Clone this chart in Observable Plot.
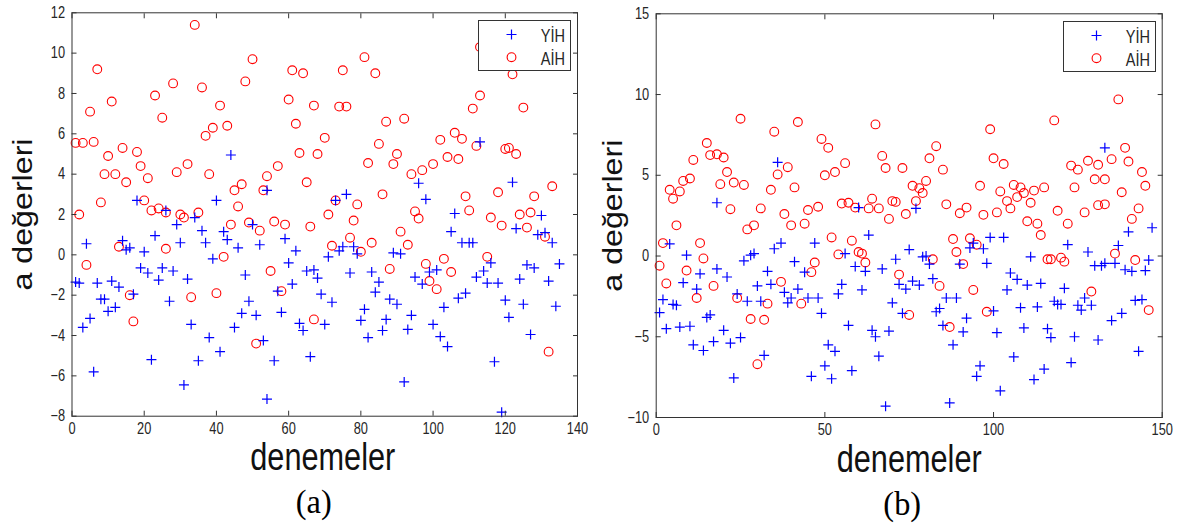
<!DOCTYPE html>
<html>
<head>
<meta charset="utf-8">
<script src="https://cdn.jsdelivr.net/npm/d3@7"></script>
<script src="https://cdn.jsdelivr.net/npm/@observablehq/plot@0.6"></script>
<style>
  html, body { margin: 0; padding: 0; background: #fff; }
  #wrap { position: relative; width: 1183px; height: 528px; overflow: hidden; background: #fff; }
  #wrap > svg { position: absolute; top: 0; }
  .legend { position: absolute; box-sizing: border-box; border: 1px solid #333; background: #fff; }
  .legend svg { position: absolute; left: 0; top: 0; overflow: visible; }
</style>
</head>
<body>
<div id="wrap"></div>
<script>
// ---------- data ----------
const seriesNames = ["YİH", "AİH"];
const xLabel = "denemeler";
const yLabel = "a değerleri";
const panelLabels = ["(a)", "(b)"];

const aXTicks = [0, 20, 40, 60, 80, 100, 120, 140];
const aYTicks = [-8, -6, -4, -2, 0, 2, 4, 6, 8, 10, 12];
const bXTicks = [0, 50, 100, 150];
const bYTicks = [-10, -5, 0, 5, 10, 15];

// panel (a) YİH  [deneme, değer]
const aYIH = [
  [1,-1.35],[2,-1.4],[3,-3.6],[4,0.55],[5,-3.15],[6,-5.8],[7,-1.4],[8,-2.2],[9,-2.2],[10,-2.8],
  [11,-1.3],[12,-2.6],[13,-1.6],[14,0.7],[15,0.25],[16,0.35],[17,-1.95],[18,2.7],[19,-0.65],[20,0.15],
  [21,-0.9],[22,-5.2],[23,0.95],[24,-1.25],[25,-0.65],[26,2.2],[27,-2.3],[28,-0.8],[29,1.5],[30,0.6],
  [31,-6.45],[32,-1.2],[33,-3.45],[34,1.85],[35,-5.25],[36,1.2],[37,0.6],[38,-4.1],[39,-0.2],[40,2.7],
  [41,-4.8],[42,1.15],[43,0.75],[44,4.95],[45,-3.6],[46,0.35],[47,-2.9],[48,-1.0],[49,-2.3],[50,1.5],
  [51,-3.0],[52,0.5],[53,-4.25],[54,-7.15],[54,3.2],[56,-5.25],[57,-1.8],[58,-2.85],[59,0.8],[60,-0.4],
  [61,-1.45],[62,0.2],[63,-3.4],[64,-3.75],[65,-0.8],[66,-5.05],[67,-0.75],[68,-1.15],[69,-1.95],[70,-3.45],
  [71,-0.1],[72,-2.35],[73,2.7],[74,0.2],[75,0.4],[76,3.0],[77,-0.9],[78,0.4],[79,0.05],[80,-3.25],
  [81,-2.7],[82,-4.1],[83,-0.85],[84,-1.85],[85,-1.35],[86,-3.75],[87,-3.2],[88,-2.2],[89,0.1],[90,-2.45],
  [91,0.05],[92,-6.3],[93,-3.7],[94,-3.0],[95,-1.1],[96,3.55],[97,-1.45],[98,2.75],[99,-0.85],[100,-3.45],
  [101,-0.75],[102,-4.05],[103,-2.6],[104,-4.55],[105,1.15],[106,2.05],[107,-2.15],[108,0.6],[109,-1.9],[110,0.6],
  [111,0.6],[112,-1.1],[113,5.6],[114,-0.8],[115,-1.4],[116,-0.4],[117,-5.3],[118,-1.4],[119,-7.8],[120,-2.25],
  [121,-3.1],[122,3.6],[123,1.3],[124,-1.2],[125,-2.45],[126,-0.5],[127,-3.95],[128,-0.65],[129,1.0],[130,1.95],
  [131,1.1],[132,-1.3],[133,0.6],[134,-2.55],[135,-0.45]
];
// panel (a) AİH
const aAIH = [
  [1,5.55],[2,2.0],[3,5.55],[4,-0.5],[5,7.1],[6,5.6],[7,9.2],[8,2.6],[9,4.0],[10,4.9],
  [11,7.6],[12,4.0],[13,0.4],[14,5.3],[15,3.6],[16,-2.0],[17,-3.3],[18,5.1],[19,4.4],[20,2.7],
  [21,3.8],[22,2.2],[23,7.9],[24,2.3],[25,6.8],[26,2.1],[26,0.3],[28,8.5],[29,4.1],[30,2.0],
  [31,1.85],[32,4.5],[33,-2.1],[34,11.4],[35,2.1],[36,8.3],[37,5.9],[38,4.0],[39,6.3],[40,-1.9],
  [41,7.4],[42,-0.1],[43,6.4],[44,1.5],[45,3.2],[46,2.4],[47,3.5],[48,8.6],[49,1.6],[50,9.7],
  [51,-4.4],[52,1.2],[53,3.2],[54,3.9],[55,-0.8],[56,1.65],[57,4.4],[58,-1.8],[59,1.5],[60,7.7],
  [61,9.15],[62,6.5],[63,5.05],[64,9.0],[65,3.6],[66,1.4],[67,7.4],[67,-3.2],[68,5.0],[70,5.8],
  [71,2.0],[72,0.45],[73,2.7],[74,7.35],[75,9.15],[76,7.35],[77,0.85],[78,1.7],[79,2.5],[80,0.15],
  [81,9.8],[82,4.55],[83,0.6],[84,9.0],[85,5.5],[86,3.0],[87,6.6],[88,-0.7],[89,4.5],[90,5.0],
  [91,1.15],[92,6.75],[93,0.5],[94,4.0],[95,2.15],[96,1.8],[97,4.2],[98,-0.45],[99,-1.3],[100,4.5],
  [101,-1.7],[102,5.7],[103,-0.2],[104,4.85],[105,-0.85],[106,6.05],[107,4.75],[108,5.75],[109,2.9],[110,2.2],
  [111,7.25],[112,5.4],[113,7.9],[113,10.3],[115,-0.1],[116,1.85],[118,3.1],[119,1.45],[120,5.25],[121,5.3],
  [122,8.95],[123,5.0],[124,2.0],[125,7.3],[126,1.35],[127,2.1],[128,2.9],[131,0.9],[132,-4.8],[133,3.4]
];
// panel (b) YİH
const bYIH = [
  [1,-3.5],[2,-2.7],[3,-4.5],[4,0.75],[5,-3.0],[6,-3.05],[7,-4.4],[8,-1.65],[9,0.05],[10,-4.35],
  [11,-5.5],[12,-2.05],[13,-1.1],[14,-5.85],[15,-3.8],[16,-3.65],[17,-5.3],[18,-0.8],[18,3.3],[20,-4.6],
  [21,-1.3],[22,-5.4],[23,-7.55],[24,-2.35],[25,-5.05],[26,-0.3],[27,-2.8],[28,0.05],[29,0.15],[30,-1.85],
  [31,-2.8],[32,-6.15],[33,-0.95],[34,-1.75],[35,0.45],[36,5.8],[37,0.8],[38,-2.25],[39,-2.9],[40,-2.6],
  [41,-0.35],[42,-2.05],[44,-1.0],[45,-2.6],[46,-7.45],[47,0.8],[48,-2.6],[49,-3.55],[50,-6.8],[51,-5.5],
  [52,-7.6],[53,-5.9],[54,-2.35],[55,-1.75],[56,0.15],[57,-4.3],[58,-7.1],[59,-0.65],[60,3.0],[61,-2.1],
  [62,-0.95],[63,1.3],[64,-4.6],[65,-5.0],[66,-6.2],[67,-0.8],[68,-9.3],[69,-4.65],[70,-2.9],[71,-0.2],
  [72,-1.75],[73,-3.55],[74,-2.05],[75,0.4],[76,-1.55],[77,2.95],[78,-1.8],[79,-0.05],[80,0.0],[81,-0.5],
  [82,-1.4],[83,-3.45],[84,-3.25],[85,-4.3],[86,-2.6],[87,-9.1],[88,-5.5],[89,-2.6],[90,-0.5],[91,-4.7],
  [92,-3.85],[93,0.5],[94,0.8],[95,-7.45],[96,-6.8],[97,0.45],[98,-0.45],[99,1.15],[100,-3.4],[101,-4.75],
  [102,-8.35],[103,1.15],[104,-2.1],[105,-1.05],[106,-6.25],[107,-1.45],[108,-3.2],[109,-4.45],[110,-1.8],[111,-0.05],
  [112,-7.65],[113,-3.15],[114,-1.7],[115,-7.0],[116,-4.5],[117,-5.05],[118,-2.8],[119,-3.0],[120,-3.0],[121,-2.0],
  [122,0.7],[123,-6.6],[124,-5.0],[125,-3.05],[126,-3.35],[127,-2.6],[128,0.25],[129,-3.05],[130,-0.6],[131,-5.2],
  [132,-0.6],[133,-0.45],[133,6.7],[135,-4.0],[136,-0.45],[137,0.65],[138,-3.55],[139,-0.85],[140,1.5],[141,-0.95],
  [142,-2.75],[143,-5.9],[144,-2.7],[145,-0.9],[146,-0.25],[147,1.75]
];
// panel (b) AİH
const bAIH = [
  [1,-0.6],[2,0.8],[3,-1.7],[4,4.1],[5,3.55],[6,1.9],[7,4.0],[8,4.65],[9,-0.9],[10,4.8],
  [11,5.95],[12,-2.6],[13,0.8],[14,-0.15],[15,7.0],[16,6.25],[17,-1.85],[18,6.3],[19,4.45],[20,6.1],
  [21,5.2],[22,2.9],[23,4.55],[24,-2.6],[25,8.5],[26,4.4],[27,1.65],[28,-3.9],[29,1.9],[30,-6.7],
  [31,2.95],[32,-3.95],[33,-2.95],[34,4.1],[35,7.7],[36,5.05],[37,-1.6],[38,2.6],[39,5.5],[40,1.9],
  [41,4.25],[42,8.3],[43,-2.95],[44,2.0],[45,2.85],[46,-1.0],[47,-0.4],[48,3.05],[49,7.25],[50,5.0],
  [51,6.7],[52,1.15],[53,5.2],[54,0.1],[55,3.25],[56,5.75],[57,3.3],[58,0.95],[59,3.0],[60,0.25],
  [61,0.15],[62,-0.4],[63,2.95],[64,3.55],[65,8.15],[66,2.95],[67,6.2],[68,5.45],[69,2.3],[70,3.4],
  [71,3.35],[72,-1.15],[73,5.45],[74,2.6],[75,-3.65],[76,4.35],[77,3.4],[78,4.2],[79,3.9],[80,4.65],
  [81,6.05],[82,-0.2],[83,6.8],[84,-1.85],[85,5.35],[86,3.2],[87,-4.4],[88,1.05],[89,0.25],[90,2.65],
  [91,-0.5],[92,3.0],[93,1.1],[94,-2.1],[95,0.7],[96,4.35],[97,2.55],[98,-3.45],[99,7.85],[100,6.05],
  [101,2.7],[102,4.0],[103,5.7],[104,3.4],[105,2.95],[106,4.4],[107,3.65],[108,4.25],[109,3.9],[110,2.15],
  [111,3.3],[112,4.05],[113,2.0],[114,1.3],[115,4.25],[116,-0.2],[117,-0.2],[118,8.4],[119,2.8],[120,-0.1],
  [121,-0.35],[122,2.0],[123,5.6],[124,4.25],[125,5.35],[127,2.7],[128,5.9],[129,-2.2],[130,4.75],[131,5.65],
  [131,3.15],[133,4.75],[133,3.2],[135,6.0],[136,0.15],[137,9.7],[138,3.95],[139,6.7],[140,5.85],[141,2.3],
  [142,-0.25],[143,2.95],[144,5.2],[145,4.35],[146,-3.35]
];

// ---------- styling ----------
const BLUE = "#0000ff", RED = "#ff0000", INK = "#262626", FRAME = "#333";
const SANS = "'Liberation Sans', Arial, sans-serif";
const SERIF = "'Liberation Serif', 'Times New Roman', serif";

const plusSymbol = {
  draw(ctx, size) {
    const r = Math.sqrt(size / Math.PI);
    ctx.moveTo(-r, 0); ctx.lineTo(r, 0);
    ctx.moveTo(0, -r); ctx.lineTo(0, r);
  }
};

function panel({width, mL, mR, mT, mB, xDomain, yDomain, xTicks, yTicks, yih, aih, label, yLabelDx, capDx, xLabDx}) {
  return Plot.plot({
    width, height: 528,
    marginLeft: mL, marginRight: mR, marginTop: mT, marginBottom: mB,
    x: {domain: xDomain, axis: null},
    y: {domain: yDomain, axis: null},
    style: {fontFamily: SANS, fontSize: "16px", color: INK, background: "transparent", overflow: "visible"},
    marks: [
      Plot.dot(aih, {x: d => d[0], y: d => d[1], r: 4.4, stroke: RED, fill: "none", strokeWidth: 1.1}),
      Plot.dot(yih, {x: d => d[0], y: d => d[1], symbol: plusSymbol, r: 5, stroke: BLUE, fill: "none", strokeWidth: 1.2}),
      Plot.frame({stroke: FRAME, strokeWidth: 1}),
      Plot.axisX(xTicks, {anchor: "bottom", tickSize: -5, tickPadding: 11, label: null, stroke: FRAME}),
      Plot.axisX(xTicks, {anchor: "top", tickSize: -5, tickFormat: () => "", label: null, stroke: FRAME}),
      Plot.axisY(yTicks, {anchor: "left", tickSize: -5, tickPadding: 12, label: null, stroke: FRAME}),
      Plot.axisY(yTicks, {anchor: "right", tickSize: -5, tickFormat: () => "", label: null, stroke: FRAME}),
      Plot.text([yLabel], {frameAnchor: "left", textAnchor: "middle", dx: yLabelDx, rotate: -90, fontSize: 27, fontFamily: SANS, fill: "#111"}),
      Plot.text([xLabel], {frameAnchor: "bottom", dx: xLabDx, dy: 54, lineAnchor: "bottom", fontSize: 38, fontFamily: SANS, fill: "#111"}),
      Plot.text([label], {frameAnchor: "bottom", dx: capDx, dy: 97, lineAnchor: "bottom", fontSize: 34, fontFamily: SERIF, fill: "#000"})
    ]
  });
}

// emulate the horizontally condensed lettering of the original figure
function condense(svg) {
  svg.querySelectorAll("text").forEach(t => {
    const txt = t.textContent;
    const L = t.getComputedTextLength();
    if (!(L > 0)) return;
    let target;
    if (txt === xLabel) target = 145;
    else if (txt === yLabel) target = 152;
    else if (panelLabels.includes(txt)) target = L * 0.95;
    else target = L * 0.8;
    t.setAttribute("textLength", target);
    t.setAttribute("lengthAdjust", "spacingAndGlyphs");
  });
}

const wrap = document.getElementById("wrap");

const svgA = panel({width: 591, mL: 71.5, mR: 14, mT: 12.3, mB: 112.3,
  xDomain: [0, 140], yDomain: [-8, 12], xTicks: aXTicks, yTicks: aYTicks,
  yih: aYIH, aih: aAIH, label: panelLabels[0], yLabelDx: -49, capDx: -11, xLabDx: -2});
svgA.style.left = "0px";
wrap.appendChild(svgA);
condense(svgA);

const svgB = panel({width: 592, mL: 64.7, mR: 21.3, mT: 13.3, mB: 111,
  xDomain: [0, 150], yDomain: [-10, 15], xTicks: bXTicks, yTicks: bYTicks,
  yih: bYIH, aih: bAIH, label: panelLabels[1], yLabelDx: -43, capDx: -7, xLabDx: 0});
svgB.style.left = "591px";
wrap.appendChild(svgB);
condense(svgB);

// ---------- legends ----------
function legend(left, top) {
  const box = document.createElement("div");
  box.className = "legend";
  Object.assign(box.style, {left: left + "px", top: top + "px", width: "93px", height: "51px"});
  const ns = "http://www.w3.org/2000/svg";
  const s = document.createElementNS(ns, "svg");
  s.setAttribute("width", 93); s.setAttribute("height", 51);
  const rows = [
    {name: seriesNames[0], color: BLUE, kind: "plus", cy: 13.5, base: 21},
    {name: seriesNames[1], color: RED, kind: "circle", cy: 36.2, base: 44}
  ];
  box.appendChild(s);
  wrap.appendChild(box);
  rows.forEach(r => {
    if (r.kind === "plus") {
      const p = document.createElementNS(ns, "path");
      p.setAttribute("d", `M27.5,${r.cy}h10M32.5,${r.cy - 5}v10`);
      p.setAttribute("stroke", r.color); p.setAttribute("stroke-width", 1.2); p.setAttribute("fill", "none");
      s.appendChild(p);
    } else {
      const c = document.createElementNS(ns, "circle");
      c.setAttribute("cx", 32.5); c.setAttribute("cy", r.cy); c.setAttribute("r", 4.4);
      c.setAttribute("stroke", r.color); c.setAttribute("stroke-width", 1.1); c.setAttribute("fill", "none");
      s.appendChild(c);
    }
    const t = document.createElementNS(ns, "text");
    t.setAttribute("x", 86); t.setAttribute("y", r.base);
    t.setAttribute("text-anchor", "end");
    t.setAttribute("font-family", SANS); t.setAttribute("font-size", 17.5);
    t.setAttribute("fill", INK);
    t.textContent = r.name;
    s.appendChild(t);
    const L = t.getComputedTextLength();
    t.setAttribute("textLength", L * 0.83);
    t.setAttribute("lengthAdjust", "spacingAndGlyphs");
  });
}
legend(478, 20);
legend(1063, 21);
</script>
</body>
</html>
